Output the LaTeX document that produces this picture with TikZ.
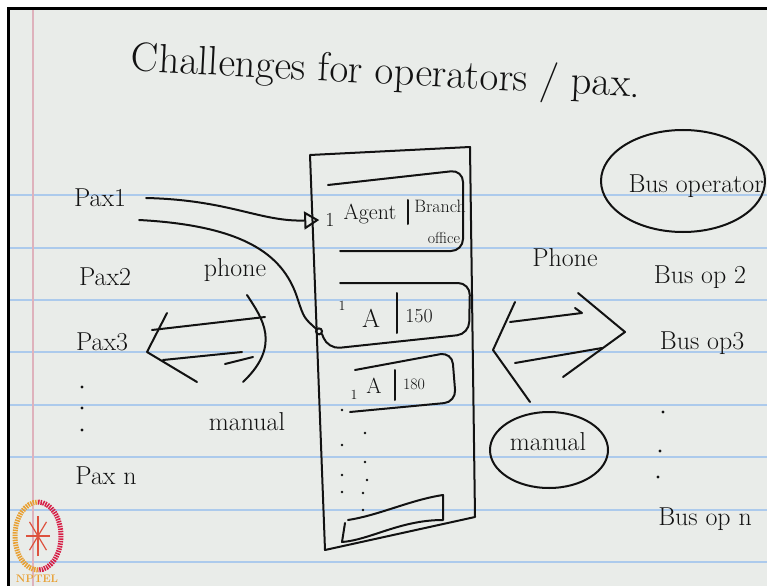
\documentclass[tikz,border=0pt]{standalone}
\usetikzlibrary{arrows.meta}
\definecolor{paper}{RGB}{233,236,233}
\definecolor{ruleblue}{RGB}{172,202,236}
\definecolor{marginpink}{RGB}{222,178,188}
\definecolor{ink}{RGB}{18,18,18}
\definecolor{logoorange}{RGB}{232,160,50}
\definecolor{logored}{RGB}{214,30,70}

\begin{document}
\begin{tikzpicture}[x=1bp,y=-1bp,>=latex,
    pen/.style={draw=ink,line width=2bp,line cap=round,line join=round},
    slot/.style={pen,rounded corners=12bp},
    hand/.style={font=\fontsize{26}{28}\selectfont,text=ink,inner sep=0pt},
    small/.style={font=\fontsize{20}{22}\selectfont,text=ink,inner sep=0pt}]
        \clip (0,0) rectangle (767,586);
        \fill[white] (0,0) rectangle (767,586);
        \fill[paper] (8,9) rectangle (767,586);
        \foreach \y in {195,248,300,352,405,457,510,562}
            \draw[ruleblue,line width=1.5bp] (10,\y) -- (767,\y);
        \draw[marginpink,line width=1.2bp] (33,9) -- (33,586);
        \draw[black,line width=3bp] (8,586) -- (8,9) -- (767,9);

        \node[font=\fontsize{41}{44}\selectfont,text=ink,rotate=-3] (title) at (386,74) {Challenges for operators / pax.};

        \node[hand] (pax1) at (100,198) {Pax1};
        \node[hand] (pax2) at (105,277) {Pax2};
        \node[hand] (pax3) at (102,342) {Pax3};
        \foreach \y in {387,408,430}
            \fill[ink] (82,\y) circle (1.6bp);
        \node[hand] (paxn) at (106,476) {Pax n};

        \node[hand] (phoneL) at (235,270) {phone};
        \node[hand] (manualL) at (247,422) {manual};
        \draw[pen] (167,313) -- (147,352) -- (197,382);
        \draw[pen] (247,295) .. controls (262,318) and (282,345) .. (243,382);
        \draw[pen] (152,330) -- (265,317);
        \draw[pen] (163,360) -- (242,352);
        \draw[pen] (225,364) -- (253,357);

        \draw[pen] (310,155) -- (470,147) -- (475,517) -- (325,550) -- cycle;

        \draw[slot] (328,185) -- (463,170) -- (463,251) -- (340,251);
        \node[small] (r1num) at (330,220) {1};
        \node[hand,font=\fontsize{22}{24}\selectfont] (agent) at (370,214) {Agent};
        \draw[pen] (408,200) -- (408,224);
        \node[small,font=\fontsize{18}{20}\selectfont] (branch) at (440,206) {Branch};
        \node[small,font=\fontsize{16}{18}\selectfont] (office) at (444,238) {office};

        \coordinate (slot2) at (322,334);
        \draw[slot] (slot2) -- (328,349) -- (469,334) -- (470,283) -- (340,283);
        \node[small,font=\fontsize{14}{16}\selectfont] (r2num) at (342,306) {1};
        \node[hand] (r2a) at (371,318) {A};
        \draw[pen] (397,293) -- (397,333);
        \node[small] (r2fare) at (419,316) {150};

        \draw[slot] (355,370) -- (452,352) -- (456,402) -- (350,412);
        \node[small,font=\fontsize{14}{16}\selectfont] (r3num) at (354,395) {1};
        \node[hand,font=\fontsize{22}{24}\selectfont] (r3a) at (374,386) {A};
        \draw[pen] (395,370) -- (395,400);
        \node[small,font=\fontsize{16}{18}\selectfont] (r3fare) at (414,384) {180};

        \foreach \p in {(342,410),(342,445),(342,475),(342,492),(365,433),(365,462),(367,480),(363,493),(363,510)}
            \fill[ink] \p circle (1.3bp);
        \draw[pen] (348,520) .. controls (380,515) and (410,500) .. (443,495) -- (443,520)
            .. controls (400,520) and (370,540) .. (342,542) -- (345,523);

        \draw[pen,-{Triangle[open,length=15bp,width=18bp]}] ([xshift=20bp]pax1.east)
            .. controls (230,200) and (260,222) .. ([xshift=-6bp]r1num.west);
        \draw[pen,-{Circle[open,length=8bp]}] ([xshift=13bp,yshift=-22bp]pax1.east)
            .. controls (250,226) and (285,258) .. (298,300) .. controls (304,318) .. (slot2);

        \node[hand] (phoneR) at (565,258) {Phone};
        \draw[pen] (515,302) -- (493,350) -- (530,402);
        \draw[pen] (578,293) -- (625,332) -- (563,377);
        \draw[pen] (510,322) -- (582,313) -- (575,308);
        \draw[pen] (515,363) -- (602,348);

        \node[hand] (manualR) at (548,442) {manual};
        \draw[pen] (549,450) ellipse [x radius=59, y radius=38];

        \node[hand] (busop) at (696,186) {Bus operator};
        \draw[pen] (683,181) ellipse [x radius=82, y radius=51];
        \node[hand] (busop2) at (700,277) {Bus op 2};
        \node[hand] (busop3) at (702,343) {Bus op3};
        \foreach \p in {(663,412),(660,451),(658,477)}
            \fill[ink] \p circle (1.6bp);
        \node[hand] (busopn) at (705,519) {Bus op n};

        \draw[logoorange,line width=5bp,dash pattern=on 1.5bp off 1bp] (38,536) +(90:23 and 34) arc [start angle=90,end angle=270,x radius=23,y radius=34];
        \draw[logored,line width=5bp,dash pattern=on 1.5bp off 1bp] (38,536) +(-90:23 and 34) arc [start angle=-90,end angle=90,x radius=23,y radius=34];
        \foreach \a in {0,45,90,135}
            \draw[logored!60!logoorange,line width=1.2bp] (38,536) +(\a:12 and 20) -- +(\a+180:12 and 20);
        \node[font=\bfseries\fontsize{11}{11}\selectfont,text=logoorange,inner sep=0pt] (nptel) at (37,579) {NPTEL};
    \end{tikzpicture}
\end{document}
